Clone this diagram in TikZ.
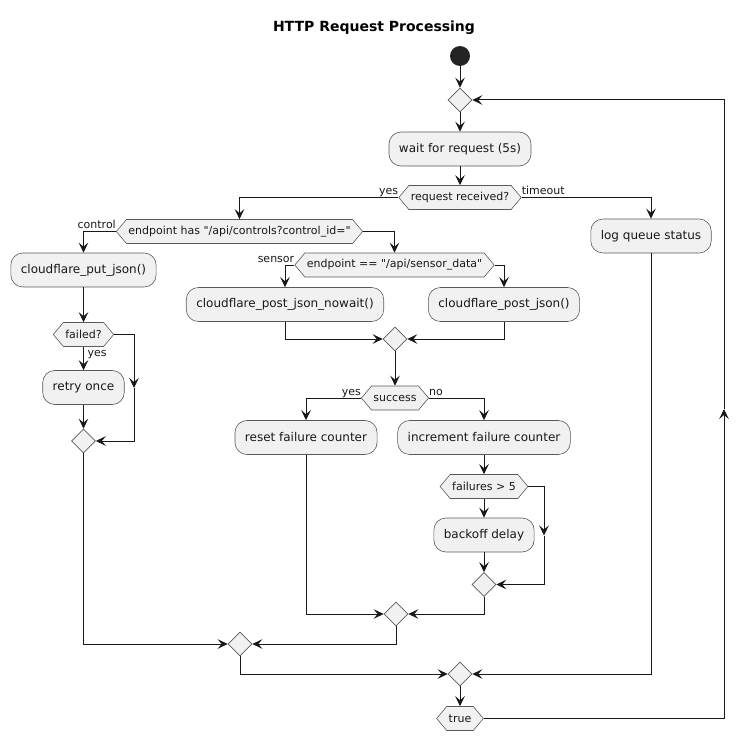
\documentclass[tikz,border=0pt]{standalone}
\usepackage{fontspec}
\setmainfont{DejaVu Sans}
\usetikzlibrary{shapes.geometric,shapes.symbols,arrows.meta}
\definecolor{boxfill}{HTML}{F1F1F1}
\definecolor{ink}{HTML}{181818}
\definecolor{edge}{HTML}{5A5A5A}
\tikzset{
  actbox/.style={draw=edge, line width=0.6pt, fill=boxfill, rounded corners=12pt,
    minimum height=34pt, inner xsep=10pt, inner ysep=0pt, text=ink,
    font=\fontsize{12}{14}\selectfont},
  hexa/.style={signal, signal to=west and east, signal pointer angle=100,
    draw=edge, line width=0.6pt, fill=boxfill, minimum height=24pt,
    inner xsep=2pt, inner ysep=0pt, text=ink, font=\fontsize{11}{13}\selectfont},
  merge/.style={diamond, draw=edge, line width=0.6pt, fill=boxfill,
    minimum width=24pt, minimum height=24pt, inner sep=0pt, aspect=1},
  flow/.style={draw=ink, line width=1pt},
  arr/.style={flow, -{Stealth[length=10pt,width=9.5pt,inset=4pt]}},
  lbl/.style={font=\fontsize{11}{13}\selectfont, text=ink, inner sep=0pt},
}
\begin{document}
\begin{tikzpicture}[x=1pt,y=-1pt]
\useasboundingbox (0,0) rectangle (749,741);
\node[font=\bfseries\fontsize{14}{16}\selectfont, text=black] (title) at (374,28) {HTTP Request Processing};
\node[circle, fill=ink!95!white, minimum size=20pt, inner sep=0pt] (start) at (460,56) {};
\node[merge] (d0) at (460,100) {};
\node[actbox] (wait) at (460,149) {wait for request (5s)};
\node[hexa] (hex1) at (460,197.5) {request received?};
\node[hexa] (hex2) at (239.5,231.5) {endpoint has \textquotedbl/api/controls?control\_id=\textquotedbl};
\node[actbox] (put) at (83.5,270) {cloudflare\_put\_json()};
\node[hexa] (hex3) at (83.5,334.5) {failed?};
\node[actbox] (retry) at (83.5,387.5) {retry once};
\node[merge] (d1) at (83.5,441) {};
\node[hexa] (hex4) at (394.5,265) {endpoint == \textquotedbl/api/sensor\_data\textquotedbl};
\node[actbox] (nowait) at (285,304.5) {cloudflare\_post\_json\_nowait()};
\node[actbox] (post) at (504,304.5) {cloudflare\_post\_json()};
\node[merge] (d2) at (395,339) {};
\node[hexa] (hex5) at (395,398) {success};
\node[actbox] (reset) at (306,437.5) {reset failure counter};
\node[actbox] (incr) at (484,437.5) {increment failure counter};
\node[hexa] (hex6) at (484,486.5) {failures > 5};
\node[actbox] (backoff) at (484,535) {backoff delay};
\node[merge] (d4) at (484,584.5) {};
\node[merge] (d5) at (396,614) {};
\node[merge] (d3) at (240,644) {};
\node[actbox] (log) at (651,236) {log queue status};
\node[merge] (d6) at (460,674) {};
\node[hexa] (true) at (460,718.5) {true};
\coordinate (m1) at (134,388);
\coordinate (m2) at (544,535.5);
\coordinate (m3) at (724,409);

\draw[arr] (start) -- (d0.north);
\draw[arr] (d0.south) -- (wait.north);
\draw[arr] (wait.south) -- (hex1.north);
\draw[arr] (hex1.west) -| (hex2.north);
\draw[arr] (hex1.east) -| (log.north);
\draw[arr] (hex2.west) -| (put.north);
\draw[arr] (hex2.east) -| (hex4.north);
\draw[arr] (put.south) -- (hex3.north);
\draw[arr] (hex3.south) -- (retry.north);
\draw[arr] (retry.south) -- (d1.north);
\draw[arr] (hex3.east) -| (m1);
\draw[arr] (m1) |- (d1.east);
\draw[arr] (hex4.west) -| (nowait.north);
\draw[arr] (hex4.east) -| (post.north);
\draw[arr] (nowait.south) |- (d2.west);
\draw[arr] (post.south) |- (d2.east);
\draw[arr] (d2.south) -- (hex5.north);
\draw[arr] (hex5.west) -| (reset.north);
\draw[arr] (hex5.east) -| (incr.north);
\draw[arr] (incr.south) -- (hex6.north);
\draw[arr] (hex6.south) -- (backoff.north);
\draw[arr] (backoff.south) -- (d4.north);
\draw[arr] (hex6.east) -| (m2);
\draw[arr] (m2) |- (d4.east);
\draw[arr] (d4.south) |- (d5.east);
\draw[arr] (reset.south) |- (d5.west);
\draw[arr] (d5.south) |- (d3.east);
\draw[arr] (d1.south) |- (d3.west);
\draw[arr] (d3.south) |- (d6.west);
\draw[arr] (log.south) |- (d6.east);
\draw[arr] (d6.south) -- (true.north);
\draw[arr] (true.east) -| (m3);
\draw[arr] (m3) |- (d0.east);

\node[lbl, anchor=base east] (l1) at ([yshift=3pt]hex1.west) {yes};
\node[lbl, anchor=base west] (l2) at ([yshift=3pt]hex1.east) {timeout};
\node[lbl, anchor=base east] (l3) at ([yshift=3pt]hex2.west) {control};
\node[lbl, anchor=base east] (l4) at ([yshift=3pt]hex4.west) {sensor};
\node[lbl, anchor=north west] (l5) at ([xshift=4pt,yshift=-3pt]hex3.south) {yes};
\node[lbl, anchor=base east] (l6) at ([yshift=3pt]hex5.west) {yes};
\node[lbl, anchor=base west] (l7) at ([yshift=3pt]hex5.east) {no};
\end{tikzpicture}
\end{document}
